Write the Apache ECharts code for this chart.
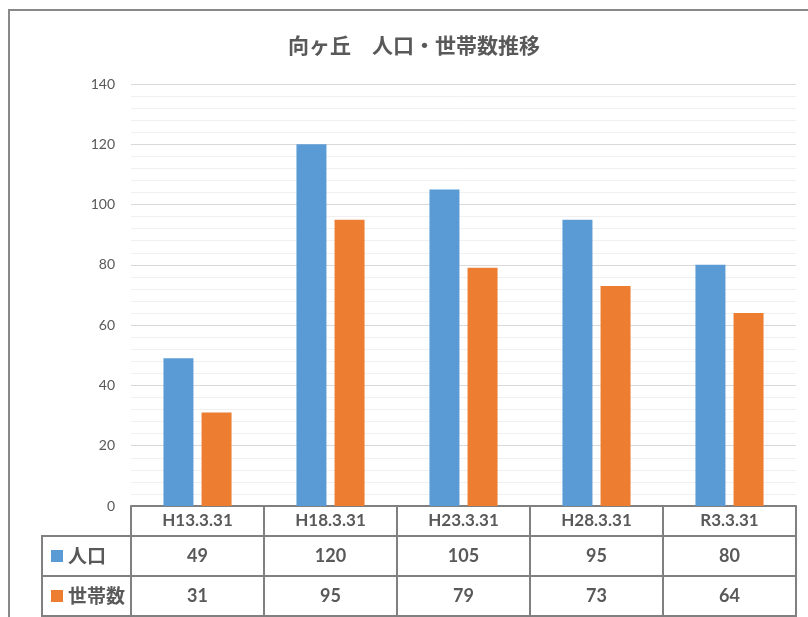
<!DOCTYPE html>
<html><head><meta charset="utf-8">
<script src="https://cdn.jsdelivr.net/npm/echarts@6/dist/echarts.min.js"></script>
<style>html,body{margin:0;padding:0;background:#fff}#c{width:808px;height:617px}</style>
</head><body><div id="c"></div>
<script>
const categories = ['H13.3.31','H18.3.31','H23.3.31','H28.3.31','R3.3.31'];
const population = [49,120,105,95,80];
const households = [31,95,79,73,64];
const yTicks = [0,20,40,60,80,100,120,140];
const seriesNames = ['人口','世帯数'];

const gray = '#595959';
const lineC = '#808080';
const fontJP = '"Noto Sans CJK JP", sans-serif';
const fontNum = 'Lato, "Open Sans", sans-serif';

const chart = echarts.init(document.getElementById('c'));
chart.setOption({
  animation:false,
  title:{text:'向ヶ丘　人口・世帯数推移', left:283, top:30,
    textStyle:{fontFamily:fontJP, fontSize:21, fontWeight:'bold', color:gray}},
  legend:{data:seriesNames, orient:'vertical', left:46, top:541, itemWidth:12, itemHeight:12, itemGap:20,
    icon:'rect', textStyle:{fontFamily:fontJP, fontSize:19, fontWeight:'bold', color:gray, lineHeight:20}},
  grid:{left:131, right:12, top:84, bottom:111, containLabel:false},
  xAxis:{type:'category', data:categories,
    axisLine:{lineStyle:{color:lineC, width:2}},
    axisTick:{show:true, length:110, interval:0, lineStyle:{color:lineC, width:2}},
    axisLabel:{interval:0, margin:0, formatter:(v,i)=>`{h|${v}}\n{a|${population[i]}}\n{b|${households[i]}}`,
      rich:{
        h:{fontFamily:fontNum, fontSize:17, fontWeight:'bold', color:gray, lineHeight:30},
        a:{fontFamily:fontNum, fontSize:18, fontWeight:'bold', color:gray, lineHeight:40},
        b:{fontFamily:fontNum, fontSize:18, fontWeight:'bold', color:gray, lineHeight:40}
      }}
  },
  yAxis:{type:'value', min:0, max:140, interval:20,
    axisLine:{show:false}, axisTick:{show:false},
    axisLabel:{fontFamily:fontNum, fontSize:14, color:gray, margin:16,
      formatter:v=>yTicks.includes(v)?String(v):''},
    splitLine:{lineStyle:{color:'#d9d9d9', width:1}},
    minorTick:{show:false, splitNumber:5},
    minorSplitLine:{show:true, lineStyle:{color:'#f0f0f0', width:1}}
  },
  series:[
    {name:seriesNames[0], type:'bar', data:population, barWidth:30, barGap:'27%', itemStyle:{color:'#5B9BD5'}},
    {name:seriesNames[1], type:'bar', data:households, barWidth:30, itemStyle:{color:'#ED7D31'}}
  ],
  graphic:[
    {type:'rect', shape:{x:9, y:10, width:900, height:800}, style:{fill:null, stroke:'#898989', lineWidth:2}, silent:true, z:-1},
    {type:'line', shape:{x1:42, y1:536, x2:797, y2:536}, style:{stroke:lineC, lineWidth:2}},
    {type:'line', shape:{x1:42, y1:576, x2:797, y2:576}, style:{stroke:lineC, lineWidth:2}},
    {type:'line', shape:{x1:42, y1:616, x2:797, y2:616}, style:{stroke:lineC, lineWidth:2}},
    {type:'line', shape:{x1:42, y1:535, x2:42, y2:617}, style:{stroke:lineC, lineWidth:2}}
  ]
});
</script></body></html>
